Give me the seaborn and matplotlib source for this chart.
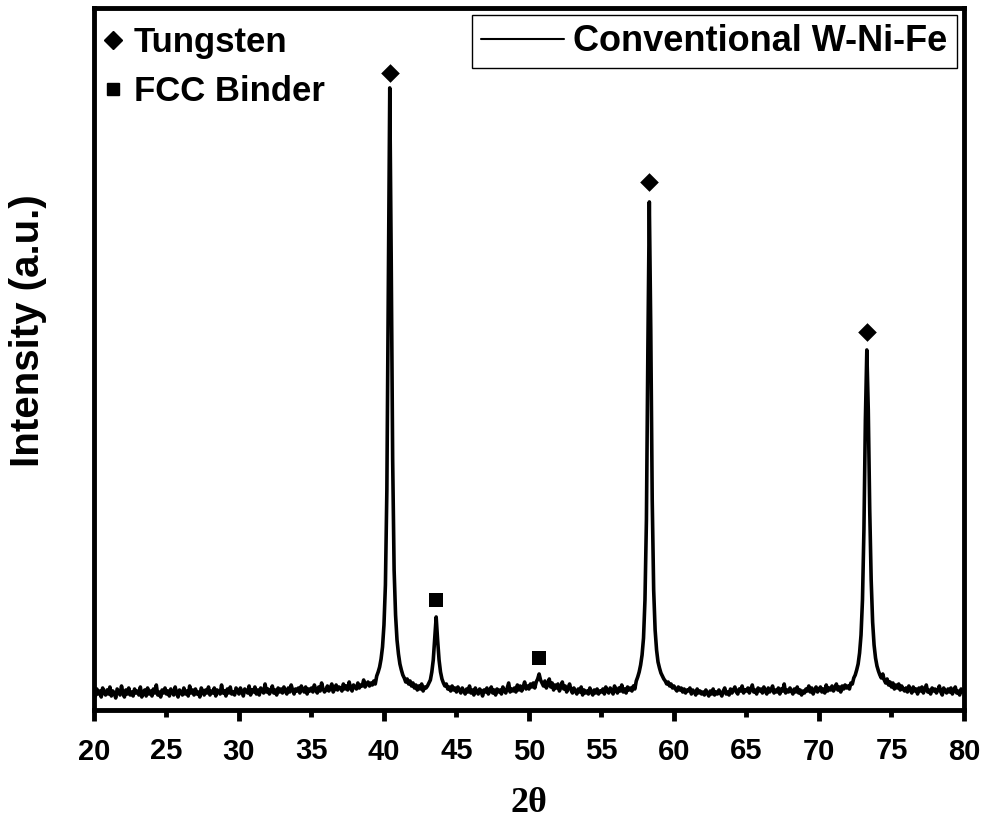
import numpy as np
import pandas as pd
import matplotlib
matplotlib.use("Agg")
import matplotlib.pyplot as plt
import seaborn as sns
from matplotlib.lines import Line2D
from matplotlib.ticker import MultipleLocator, FormatStrFormatter

# ---------------- data ----------------
two_theta = np.round(np.arange(20.0, 80.001, 0.1), 1)

counts_20s = [
    18, 14, 21, 16, 19, 13, 22, 17, 15, 20,
    16, 23, 14, 19, 17, 12, 21, 18, 15, 24,
    17, 13, 20, 16, 22, 15, 18, 14, 21, 17,
    19, 15, 23, 13, 18, 20, 14, 22, 16, 19,
    14, 21, 17, 25, 15, 18, 13, 20, 17, 22,
    16, 19, 14, 21, 18, 15, 23, 17, 13, 20,
    18, 15, 22, 16, 19, 14, 24, 17, 20, 15,
    21, 16, 18, 13, 22, 19, 15, 20, 17, 23,
    15, 19, 17, 22, 14, 20, 18, 16, 25, 17,
    19, 14, 21, 17, 23, 16, 18, 15, 22, 19,
]
counts_30s = [
    16, 22, 18, 14, 21, 19, 17, 24, 15, 20,
    18, 23, 16, 20, 15, 22, 19, 17, 26, 18,
    21, 16, 19, 24, 17, 20, 15, 22, 18, 21,
    17, 23, 19, 16, 22, 18, 25, 20, 16, 21,
    19, 22, 17, 24, 20, 18, 23, 16, 21, 19,
    22, 18, 25, 20, 17, 23, 19, 27, 21, 18,
    20, 24, 19, 22, 26, 18, 21, 25, 20, 23,
    22, 19, 26, 21, 24, 20, 28, 22, 19, 25,
    23, 21, 27, 22, 25, 24, 30, 23, 26, 28,
    24, 27, 25, 29, 26, 34, 38, 43, 51, 63,
]
counts_40s = [
    85, 125, 220, 420, 622, 450, 250, 140, 95, 70,
    56, 46, 40, 35, 32, 28, 31, 26, 29, 24,
    27, 22, 25, 20, 24, 21, 26, 19, 23, 22,
    24, 27, 30, 38, 50, 72, 93, 70, 50, 38,
    31, 27, 24, 26, 21, 23, 19, 24, 20, 22,
    18, 23, 20, 17, 22, 19, 16, 21, 18, 24,
    17, 20, 15, 22, 18, 16, 21, 19, 14, 20,
    18, 22, 16, 19, 23, 17, 20, 15, 21, 18,
    20, 16, 23, 19, 17, 22, 27, 18, 21, 19,
    22, 18, 25, 20, 24, 19, 23, 28, 21, 24,
]
counts_50s = [
    21, 26, 23, 27, 22, 28, 31, 36, 30, 27,
    24, 29, 22, 26, 31, 23, 27, 20, 25, 22,
    26, 19, 23, 28, 21, 24, 18, 22, 26, 20,
    17, 22, 19, 16, 21, 18, 23, 15, 20, 17,
    19, 16, 22, 18, 15, 20, 17, 21, 16, 19,
    18, 21, 16, 23, 19, 17, 22, 20, 16, 24,
    20, 17, 22, 19, 25, 18, 21, 17, 23, 20,
    22, 19, 24, 21, 29, 33, 38, 45, 55, 72,
    110, 190, 360, 508, 380, 210, 120, 80, 60, 48,
    42, 37, 34, 31, 29, 26, 28, 24, 26, 22,
]
counts_60s = [
    24, 21, 19, 23, 20, 22, 18, 21, 17, 20,
    19, 22, 16, 20, 18, 15, 21, 17, 19, 16,
    18, 15, 20, 17, 14, 19, 16, 21, 15, 18,
    16, 20, 17, 14, 19, 22, 16, 18, 15, 21,
    17, 20, 23, 18, 16, 21, 19, 24, 17, 20,
    19, 22, 17, 21, 25, 18, 20, 16, 22, 19,
    21, 17, 23, 19, 16, 22, 18, 20, 24, 17,
    20, 18, 22, 16, 21, 19, 26, 17, 20, 18,
    22, 19, 16, 21, 18, 23, 17, 20, 15, 19,
    17, 21, 19, 24, 18, 22, 16, 20, 23, 18,
]
counts_70s = [
    20, 23, 18, 21, 17, 25, 19, 22, 20, 24,
    19, 22, 26, 20, 23, 18, 24, 21, 25, 22,
    24, 21, 27, 26, 32, 35, 40, 46, 57, 75,
    110, 180, 290, 360, 300, 200, 130, 88, 65, 52,
    44, 39, 35, 32, 36, 30, 27, 31, 25, 28,
    23, 27, 21, 25, 22, 26, 20, 24, 21, 19,
    22, 18, 24, 20, 17, 23, 19, 21, 16, 22,
    19, 23, 17, 21, 25, 18, 20, 16, 22, 19,
    21, 17, 20, 24, 18, 15, 22, 19, 17, 21,
    18, 22, 16, 20, 23, 17, 19, 15, 21, 18,
    20,
]

tungsten_2theta = [40.4, 58.3, 73.3]
tungsten_mark = [637, 528, 378]
binder_2theta = [43.6, 50.7]
binder_mark = [110, 52]

series_label = "Conventional W-Ni-Fe"
phase_labels = ["Tungsten", "FCC Binder"]

intensity = counts_20s + counts_30s + counts_40s + counts_50s + counts_60s + counts_70s
df = pd.DataFrame({"two_theta": two_theta, "intensity": intensity})

# ---------------- style ----------------
sns.set_theme(style="white")
plt.rcParams["font.family"] = ["Liberation Sans", "DejaVu Sans"]
plt.rcParams["font.weight"] = "bold"
plt.rcParams["axes.labelweight"] = "bold"
plt.rcParams["text.color"] = "black"
plt.rcParams["axes.labelcolor"] = "black"
plt.rcParams["xtick.color"] = "black"
plt.rcParams["ytick.color"] = "black"

fig = plt.figure(figsize=(9.89, 8.25), dpi=100)
ax = fig.add_axes([0.095, 0.1394, 0.8797, 0.851])

sns.lineplot(data=df, x="two_theta", y="intensity", color="black",
             linewidth=2.6, ax=ax, legend=False, sort=True)
sns.scatterplot(x=tungsten_2theta, y=tungsten_mark, marker="D", s=90,
                color="black", edgecolor="black", linewidth=0, ax=ax, legend=False)
sns.scatterplot(x=binder_2theta, y=binder_mark, marker="s", s=110,
                color="black", edgecolor="black", linewidth=0, ax=ax, legend=False)

ax.set_xlim(20, 80)
ax.set_ylim(0, 702)
ax.set_yticks([])

ax.xaxis.set_major_locator(MultipleLocator(10))
ax.xaxis.set_minor_locator(MultipleLocator(5))
ax.xaxis.set_major_formatter(FormatStrFormatter("%d"))
ax.xaxis.set_minor_formatter(FormatStrFormatter("%d"))
ax.tick_params(axis="x", which="major", direction="out", length=8, width=3.5,
               labelsize=21, pad=12, bottom=True, color="black", labelcolor="black")
ax.tick_params(axis="x", which="minor", direction="out", length=5, width=3.5,
               labelsize=21, pad=14.2, bottom=True, color="black", labelcolor="black")
for lab in ax.get_xticklabels(minor=False) + ax.get_xticklabels(minor=True):
    lab.set_fontweight("bold")

for s in ax.spines.values():
    s.set_linewidth(3.5)
    s.set_color("black")

ax.set_ylabel("Intensity (a.u.)", fontsize=29, fontweight="bold")
ax.yaxis.set_label_coords(-0.054, 0.54)
ax.set_xlabel("2θ", fontsize=26, fontweight="bold",
              family=["Liberation Serif", "DejaVu Serif"], labelpad=15)

# legends
line_handle = Line2D([], [], color="black", linewidth=1.5)
leg1 = ax.legend([line_handle], [series_label], loc="upper right",
                 frameon=True, fancybox=False, edgecolor="black", framealpha=1,
                 prop={"size": 26, "weight": "bold"}, handlelength=2.3,
                 handletextpad=0.25, borderpad=0.25, borderaxespad=0.2)
leg1.get_frame().set_linewidth(1.0)
ax.add_artist(leg1)

phase_handles = [Line2D([], [], marker="D", linestyle="none", color="black", markersize=9),
                 Line2D([], [], marker="s", linestyle="none", color="black", markersize=9)]
ax.legend(phase_handles, phase_labels, loc="upper left", bbox_to_anchor=(0.0, 0.989),
          frameon=False, prop={"size": 25, "weight": "bold"}, handlelength=0.5,
          handletextpad=0.35, borderaxespad=0.0, borderpad=0.3, labelspacing=0.45)

fig.savefig("out.png", dpi=100)
